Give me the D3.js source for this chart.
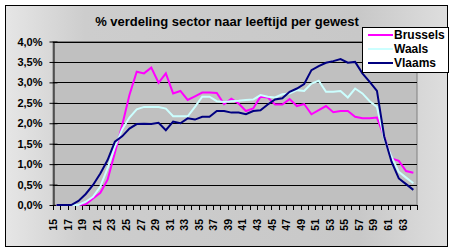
<!DOCTYPE html>
<html><head><meta charset="utf-8">
<script src="https://cdn.jsdelivr.net/npm/d3@7"></script>
<style>html,body{margin:0;padding:0;background:#fff;}svg{display:block;font-family:"Liberation Sans",Arial,sans-serif;}</style>
</head><body>
<script>
const ages = [15,16,17,18,19,20,21,22,23,24,25,26,27,28,29,30,31,32,33,34,35,36,37,38,39,40,41,42,43,44,45,46,47,48,49,50,51,52,53,54,55,56,57,58,59,60,61,62,63,64];
const tickLabels = [15,17,19,21,23,25,27,29,31,33,35,37,39,41,43,45,47,49,51,53,55,57,59,61,63];
const yTicks = [0,0.5,1,1.5,2,2.5,3,3.5,4];
const brussels = [0,0,0,0,0.02,0.16,0.3,0.62,1.28,1.95,2.69,3.26,3.22,3.36,2.99,3.22,2.73,2.79,2.57,2.66,2.75,2.75,2.74,2.47,2.6,2.48,2.3,2.36,2.65,2.63,2.46,2.46,2.59,2.42,2.47,2.22,2.32,2.42,2.27,2.3,2.3,2.16,2.12,2.12,2.14,1.67,1.14,1.08,0.83,0.79];
const waals = [0,0,0,0,0.08,0.2,0.45,0.9,1.42,1.85,2.14,2.34,2.4,2.4,2.4,2.36,2.17,2.17,2.17,2.4,2.65,2.65,2.54,2.52,2.54,2.55,2.57,2.58,2.69,2.65,2.63,2.71,2.73,2.81,2.79,2.97,3.04,2.77,2.77,2.79,2.63,2.85,2.73,2.54,2.4,1.63,1.18,0.81,0.67,0.53];
const vlaams = [0,0,0,0.1,0.27,0.49,0.77,1.1,1.55,1.68,1.87,1.98,1.99,1.98,2.01,1.83,2.04,2.0,2.12,2.09,2.16,2.16,2.3,2.3,2.26,2.26,2.22,2.3,2.32,2.46,2.58,2.61,2.77,2.85,2.96,3.3,3.4,3.48,3.52,3.57,3.48,3.5,3.22,3.01,2.79,1.67,1.06,0.65,0.51,0.37];
const seriesNames = ["Brussels","Waals","Vlaams"];
const seriesColors = ["#FF00FF","#CCFFFF","#000080"];
const seriesData = [brussels, waals, vlaams];

const W = 455, H = 252;
const svg = d3.select("body").append("svg").attr("width", W).attr("height", H);
const defs = svg.append("defs");
const grad = defs.append("linearGradient").attr("id","bg").attr("x1","0").attr("y1","0").attr("x2","1").attr("y2","0");
grad.append("stop").attr("offset","0%").attr("stop-color","#e6e6e6");
grad.append("stop").attr("offset","18%").attr("stop-color","#cdcdcd");
grad.append("stop").attr("offset","80%").attr("stop-color","#c8c8c8");
grad.append("stop").attr("offset","100%").attr("stop-color","#dedede");

svg.append("rect").attr("x",5.5).attr("y",5.5).attr("width",442).attr("height",241)
  .attr("fill","url(#bg)").attr("stroke","#000").attr("stroke-width",1);

const L = 53, R = 417, T = 41.5, B = 205;
const x = d3.scaleBand().domain(ages).range([L, R]).paddingInner(0).paddingOuter(0);
const y = d3.scaleLinear().domain([0, 4]).range([B, T]);

svg.append("rect").attr("x",L).attr("y",T).attr("width",R-L).attr("height",B-T)
  .attr("fill","#C0C0C0").attr("stroke","#808080").attr("stroke-width",1);

// gridlines
svg.append("g").selectAll("line").data(yTicks.filter(d=>d>0)).join("line")
  .attr("x1",L).attr("x2",R).attr("y1",d=>Math.round(y(d))+0.5).attr("y2",d=>Math.round(y(d))+0.5)
  .attr("stroke","#000").attr("stroke-width",1);

// y axis
const yAxis = d3.axisLeft(y).tickValues(yTicks).tickSizeInner(4).tickSizeOuter(0)
  .tickFormat(d => d.toFixed(1).replace(".", ",") + "%");
const gy = svg.append("g").attr("transform",`translate(${L+0.5},0)`).call(yAxis);
gy.select(".domain").attr("stroke","#000");
gy.selectAll(".tick line").attr("x1",-4).attr("x2",4).attr("stroke","#000");
gy.selectAll(".tick text").attr("x",-11).attr("font-size","11px").attr("font-weight","bold").attr("fill","#000").attr("font-family","Liberation Sans, Arial, sans-serif");

// x axis
svg.append("line").attr("x1",L).attr("x2",R).attr("y1",B+0.5).attr("y2",B+0.5).attr("stroke","#000");
const tickPos = ages.map(a => x(a)).concat([R]);
svg.append("g").selectAll("line").data(tickPos).join("line")
  .attr("x1",d=>Math.round(d)+0.5).attr("x2",d=>Math.round(d)+0.5).attr("y1",B).attr("y2",B+5)
  .attr("stroke","#000");
svg.append("g").selectAll("text").data(tickLabels).join("text")
  .attr("transform", d => `translate(${x(d)+x.bandwidth()/2+0.5},${219}) rotate(-90)`)
  .attr("text-anchor","end").attr("font-size","10.5px").attr("font-weight","bold").attr("fill","#000")
  .text(d => d);

// lines
const line = d3.line().x((d,i)=>x(ages[i])+x.bandwidth()/2).y(d=>y(d));
seriesData.forEach((s,k)=>{
  svg.append("path").datum(s).attr("d",line).attr("fill","none")
    .attr("stroke",seriesColors[k]).attr("stroke-width",2).attr("stroke-linejoin","miter");
});

// title
svg.append("text").attr("x",227).attr("y",26).attr("text-anchor","middle")
  .attr("font-size","13px").attr("font-weight","bold").attr("fill","#000")
  .text("% verdeling sector naar leeftijd per gewest");

// legend
const lg = svg.append("g");
lg.append("rect").attr("x",362.5).attr("y",27.5).attr("width",86).attr("height",45).attr("fill","#fff").attr("stroke","#000");
seriesNames.forEach((n,k)=>{
  const cy = 35 + k*14;
  lg.append("line").attr("x1",368).attr("x2",393).attr("y1",cy).attr("y2",cy).attr("stroke",seriesColors[k]).attr("stroke-width",2);
  lg.append("text").attr("x",394).attr("y",cy+4).attr("font-size","12px").attr("font-weight","bold").attr("fill","#000").text(n);
});
</script>
</body></html>
